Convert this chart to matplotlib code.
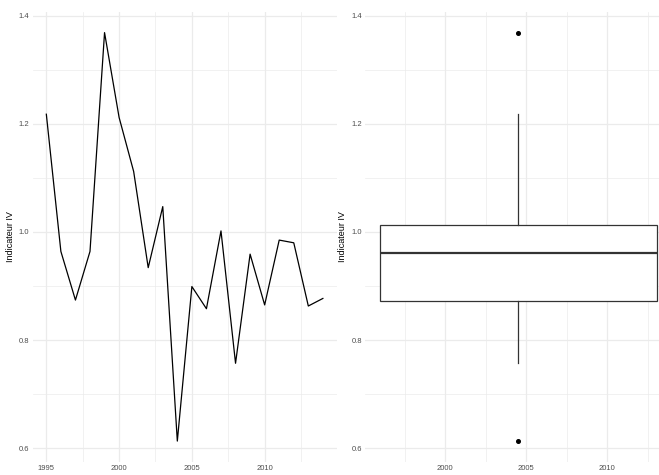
import numpy as np
import matplotlib.pyplot as plt
from matplotlib.ticker import MultipleLocator

annees = list(range(1995, 2015))
indicateur = [1.218, 0.964, 0.874, 0.964, 1.369, 1.212, 1.112, 0.934, 1.047, 0.613,
              0.899, 0.858, 1.002, 0.757, 0.959, 0.865, 0.985, 0.980, 0.863, 0.877]

plt.rcParams["font.family"] = ["Liberation Sans", "DejaVu Sans"]

W, H = 659, 475
fig = plt.figure(figsize=(W / 100, H / 100), dpi=100)
fig.patch.set_facecolor("white")

grille = "#EBEBEB"


def style(ax):
    for s in ax.spines.values():
        s.set_visible(False)
    ax.yaxis.set_major_locator(MultipleLocator(0.2))
    ax.yaxis.set_minor_locator(MultipleLocator(0.1))
    ax.xaxis.set_major_locator(MultipleLocator(5))
    ax.xaxis.set_minor_locator(MultipleLocator(2.5))
    ax.grid(True, which="major", color=grille, linewidth=0.9)
    ax.grid(True, which="minor", color=grille, linewidth=0.5)
    ax.set_axisbelow(True)
    ax.tick_params(which="both", length=0, labelsize=5.5, colors="#4D4D4D", pad=2.5)
    ax.set_ylabel("Indicateur IV", fontsize=6.5)
    ax.set_xlabel("Année", fontsize=6.5)


# limites avec expansion de 5 %
lo, hi = min(indicateur), max(indicateur)
pad = 0.05 * (hi - lo)
ylim = (lo - pad, hi + pad)

# panneau de gauche : série temporelle
ax1 = fig.add_axes([32.5 / W, 1 - 461.5 / H, 304.2 / W, 449.3 / H])
ax1.plot(annees, indicateur, color="black", linewidth=0.9)
xpad = 0.05 * (annees[-1] - annees[0])
ax1.set_xlim(annees[0] - xpad, annees[-1] + xpad)
ax1.set_ylim(*ylim)
style(ax1)
ax1.yaxis.set_label_coords(-0.0575, 0.5)
ax1.xaxis.set_label_coords(0.5, -0.032)

# panneau de droite : boîte à moustaches
ax2 = fig.add_axes([365.3 / W, 1 - 461.5 / H, (W - 365.3) / W, 449.3 / H])
centre = np.mean(annees)
largeur = 0.9 * (annees[-1] - annees[0])
ax2.boxplot(indicateur, positions=[centre], widths=largeur, patch_artist=True,
            boxprops=dict(facecolor="white", edgecolor="#333333", linewidth=0.9),
            medianprops=dict(color="#333333", linewidth=1.6),
            whiskerprops=dict(color="#333333", linewidth=0.9),
            capprops=dict(linewidth=0),
            flierprops=dict(marker="o", markersize=2.6, markerfacecolor="black",
                            markeredgecolor="black"),
            manage_ticks=False)
ax2.set_xlim(1995.07, 1995.07 + (W - 365.3) / 16.2)
ax2.set_ylim(*ylim)
style(ax2)
ax2.yaxis.set_label_coords(-0.062, 0.5)
ax2.xaxis.set_label_coords(0.5, -0.032)

fig.savefig("out.png", dpi=100)
plt.close(fig)
